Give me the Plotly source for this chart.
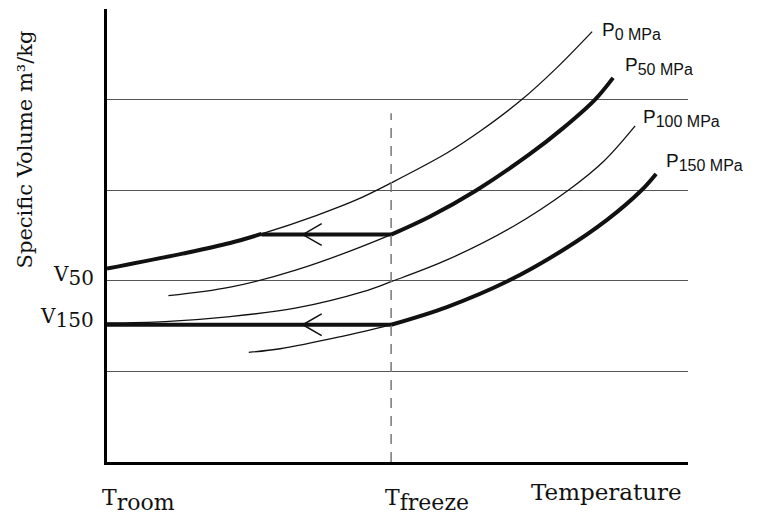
import plotly.graph_objects as go

# ---- data (arbitrary temperature 0-100, specific volume 0-5) ----
p0_x = [0, 13, 21.2, 26.6, 36, 43, 48.9, 58.5, 64.2, 71.4, 77.4, 83.5]
p0_y = [2.134, 2.30, 2.417, 2.517, 2.72, 2.895, 3.08, 3.41, 3.65, 4.0, 4.35, 4.75]
p0_thick_n = 4  # first points drawn thick (path at room temperature side)

p50_x = [10.57, 21.2, 32.6, 48.9, 55.6, 63.6, 72.8, 78.5, 84.0, 87.1]
p50_y = [1.836, 1.93, 2.12, 2.51, 2.71, 3.0, 3.40, 3.685, 4.0, 4.24]
p50_thick_from = 3

p100_x = [0, 10, 21.2, 32.6, 44.1, 48.9, 58.5, 69.9, 79.4, 85.5, 90.9]
p100_y = [1.534, 1.55, 1.605, 1.70, 1.88, 1.99, 2.23, 2.6, 3.0, 3.32, 3.71]

p150_x = [24.4, 29.8, 40, 48.9, 58.5, 69.1, 78.5, 86.0, 92.0, 94.5]
p150_y = [1.21, 1.25, 1.38, 1.515, 1.71, 2.0, 2.34, 2.67, 3.0, 3.18]
p150_thick_from = 3

t_room = 0
t_freeze = 48.9
v_upper_path = 2.51   # isochoric path reaching P50 at T_freeze
v150 = 1.515          # isochoric path at P150

curve_labels = ["P<sub><span style='font-size:16px'>0 MPa</span></sub>",
                "P<sub><span style='font-size:16px'>50 MPa</span></sub>",
                "P<sub><span style='font-size:16px'>100 MPa</span></sub>",
                "P<sub><span style='font-size:16px'>150 MPa</span></sub>"]

SERIF = "DejaVu Serif, Liberation Serif, serif"
SANS = "Liberation Sans Narrow, Liberation Sans, Arial, sans-serif"
THIN = 1.3
THICK = 4

fig = go.Figure()

def add_line(x, y, w, color="#111", dash=None, shape="spline"):
    fig.add_trace(go.Scatter(x=x, y=y, mode="lines",
                             line=dict(color=color, width=w, shape=shape,
                                       dash=dash, smoothing=1.0),
                             hoverinfo="skip", showlegend=False))

# isobars (thin full curves)
add_line(p0_x, p0_y, THIN)
add_line(p50_x, p50_y, THIN)
add_line(p100_x, p100_y, THIN)
add_line(p150_x, p150_y, THIN)

# thick overlay portions
add_line(p0_x[:p0_thick_n], p0_y[:p0_thick_n], THICK)
add_line(p50_x[p50_thick_from:], p50_y[p50_thick_from:], THICK)
add_line(p150_x[p150_thick_from:], p150_y[p150_thick_from:], THICK)

# isochoric horizontal paths
add_line([p0_x[p0_thick_n - 1], t_freeze], [v_upper_path, v_upper_path], THICK, shape="linear")
add_line([t_room, t_freeze], [v150, v150], THICK, shape="linear")

# T_freeze dashed line
add_line([t_freeze, t_freeze], [0, 3.85], 1.5, color="#777", dash="10px,8px", shape="linear")

# arrow chevrons
for yv in (v_upper_path, v150):
    add_line([36.95, 33.7, 36.95], [yv + 0.12, yv, yv - 0.12], 1.5, shape="linear")

ann = []
# curve labels at curve ends
ends = [(p0_x[-1], p0_y[-1], 8, 1), (p50_x[-1], p50_y[-1], 10, 12),
        (p100_x[-1], p100_y[-1], 6, 8), (p150_x[-1], p150_y[-1], 8, 12)]
for (ex, ey, xs, ys), lab in zip(ends, curve_labels):
    ann.append(dict(x=ex, y=ey, xref="x", yref="y", text=lab, showarrow=False,
                    xanchor="left", yanchor="middle", xshift=xs, yshift=ys,
                    font=dict(family=SANS, size=19, color="#111")))

# V labels
ann.append(dict(x=0, y=2.056, xref="x", yref="y",
                text="V<sub><span style='font-size:20px'>50</span></sub>",
                showarrow=False, xanchor="right", yanchor="middle", xshift=-11,
                font=dict(family=SERIF, size=20, color="#111")))
ann.append(dict(x=0, y=1.59, xref="x", yref="y",
                text="V<sub><span style='font-size:20px'>150</span></sub>",
                showarrow=False, xanchor="right", yanchor="middle", xshift=-11,
                font=dict(family=SERIF, size=20, color="#111")))

# T labels
ann.append(dict(x=t_room, y=0, xref="x", yref="y",
                text="T<sub><span style='font-size:22px'>room</span></sub>",
                showarrow=False, xanchor="left", yanchor="top", xshift=-7, yshift=-21,
                font=dict(family=SERIF, size=22, color="#111")))
ann.append(dict(x=t_freeze, y=0, xref="x", yref="y",
                text="T<sub><span style='font-size:22px'>freeze</span></sub>",
                showarrow=False, xanchor="left", yanchor="top", xshift=-8, yshift=-21,
                font=dict(family=SERIF, size=22, color="#111")))
ann.append(dict(x=1.0, y=0, xref="paper", yref="y",
                text="Temperature", showarrow=False, xanchor="right", yanchor="top",
                xshift=-4, yshift=-15,
                font=dict(family=SERIF, size=23, color="#111")))

# y title
ann.append(dict(x=0, y=0.69, xref="paper", yref="paper", text="Specific Volume m³/kg",
                showarrow=False, textangle=-90, xanchor="center", yanchor="middle",
                xshift=-82,
                font=dict(family=SERIF, size=21, color="#111")))

fig.update_layout(
    width=760, height=515,
    margin=dict(l=99, r=80, t=1, b=61),
    paper_bgcolor="white", plot_bgcolor="white",
    xaxis=dict(range=[0, 100], showgrid=False, zeroline=False, showticklabels=False,
               ticks="", showline=True, linecolor="#000", linewidth=3),
    yaxis=dict(range=[0, 5], showgrid=True, gridcolor="#555", gridwidth=1,
               dtick=1, zeroline=False, showticklabels=False, ticks="",
               showline=True, linecolor="#000", linewidth=3),
    annotations=ann,
    showlegend=False,
)

fig.write_html("out.html")
